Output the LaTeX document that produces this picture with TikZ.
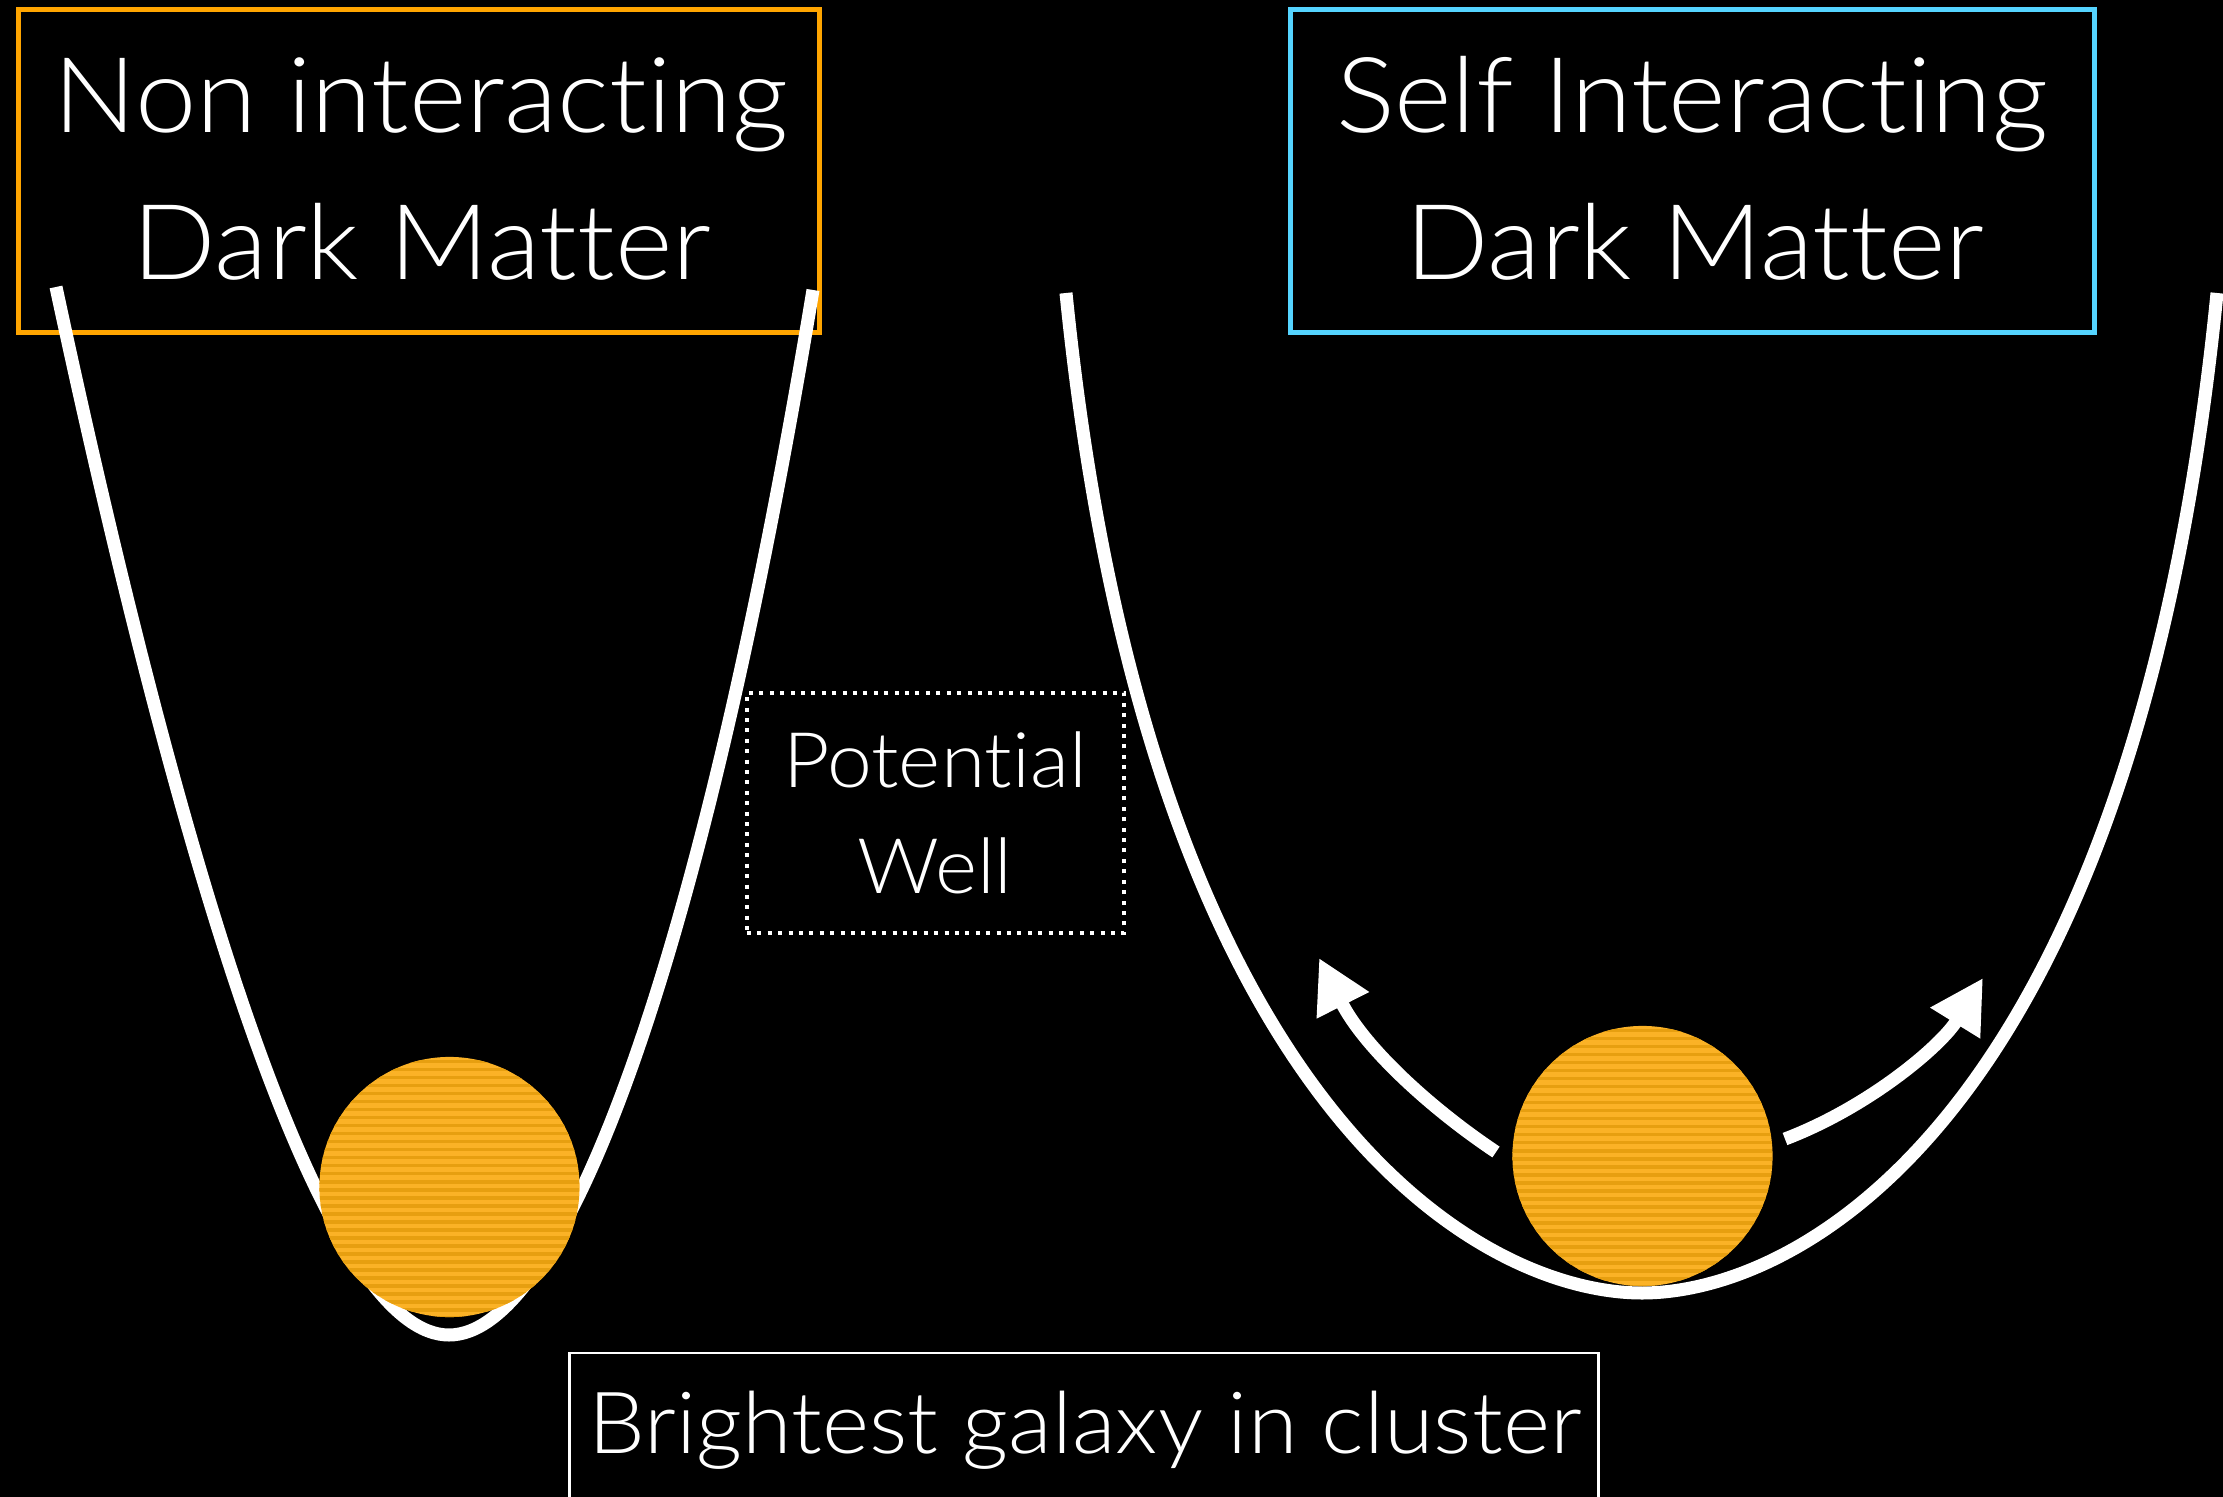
\documentclass[tikz,border=0pt]{standalone}
\usepackage{fontspec}
\setmainfont{Lato Light}[FakeStretch=1.05, Ligatures=NoCommon]
\usetikzlibrary{arrows.meta}
\definecolor{boxorange}{HTML}{FFA500}
\definecolor{boxblue}{HTML}{55D4FF}
\definecolor{galbase}{HTML}{FBB226}
\definecolor{galstripe}{HTML}{E79F10}
\begin{document}
\begin{tikzpicture}[x=0.01cm, y=-0.01cm,
  well/.style={white, line width=0.13cm},
  titlebox/.style={line width=0.05cm, inner sep=0, fill=none},
  titletext/.style={text=white, font=\fontsize{29.8}{36}\selectfont, anchor=base, inner sep=0},
  pwtext/.style={text=white, font=\fontsize{21.8}{26}\selectfont, anchor=base, inner sep=0},
  bgtext/.style={text=white, font=\fontsize{24.4}{30}\selectfont, anchor=base, inner sep=0},
  dotbox/.style={draw=white, line width=0.04cm, dash pattern=on 0.04cm off 0.064cm, inner sep=0, minimum width=3.77cm, minimum height=2.4cm},
  galaxy/.style={circle, minimum size=2.6cm, inner sep=0, fill=galbase,
    path picture={\foreach \k in {0,...,33} {\fill[galstripe] ([yshift=-\k*0.08cm-0.03cm]path picture bounding box.north west) rectangle ++(260,3.5);}}},
  moveArrow/.style={white, line width=0.13cm, -{Triangle[length=0.53cm, width=0.55cm]}}
]
\useasboundingbox (0,0) rectangle (2223,1497);
\fill[black] (0,0) rectangle (2223,1497);
\clip (0,0) rectangle (2223,1497);

% title boxes
\node[titlebox, draw=boxorange, minimum width=8.0cm, minimum height=3.22cm] (nonbox) at (419,171) {};
\node[titletext] (non1) at (421,133) {Non interacting};
\node[titletext] (non2) at (422,280) {Dark Matter};

\node[titlebox, draw=boxblue, minimum width=8.03cm, minimum height=3.22cm] (sidmbox) at (1692.5,171) {};
\node[titletext] (sidm1) at (1692,133) {Self Interacting};
\node[titletext] (sidm2) at (1695,280) {Dark Matter};

% left well
\draw[well] (56,287) .. controls (206,987) and (339,1335) .. (449,1335)
  .. controls (559,1335) and (697,990) .. (813,290);

% right well
\draw[well] (1066,293) .. controls (1148,1113) and (1482,1293) .. (1642,1293)
  .. controls (1802,1293) and (2136,1113) .. (2217,293);

% galaxies
\node[galaxy] (galL) at (449.5,1187) {};
\node[galaxy] (galR) at (1642.5,1156) {};

% arrows
\coordinate (aLtip) at (1319,958);
\coordinate (aRtip) at (1983,978);
\coordinate (aLtail) at (1496,1152);
\coordinate (aRtail) at (1785,1139);
\draw[moveArrow] (aLtail) .. controls (1430,1108) and (1364,1047) .. (aLtip);
\draw[moveArrow] (aRtail) .. controls (1869,1107) and (1941,1046) .. (aRtip);

% potential well label
\node[dotbox] (pwbox) at (935.5,813) {};
\node[pwtext] (pw1) at (935,787) {Potential};
\node[pwtext] (pw2) at (935,893) {Well};

% brightest galaxy label
\node[draw=white, line width=0.025cm, inner sep=0, minimum width=10.28cm, minimum height=2.0cm] (bgbox) at (1084,1453) {};
\node[bgtext] (bgt) at (1085,1453) {Brightest galaxy in cluster};
\end{tikzpicture}
\end{document}
